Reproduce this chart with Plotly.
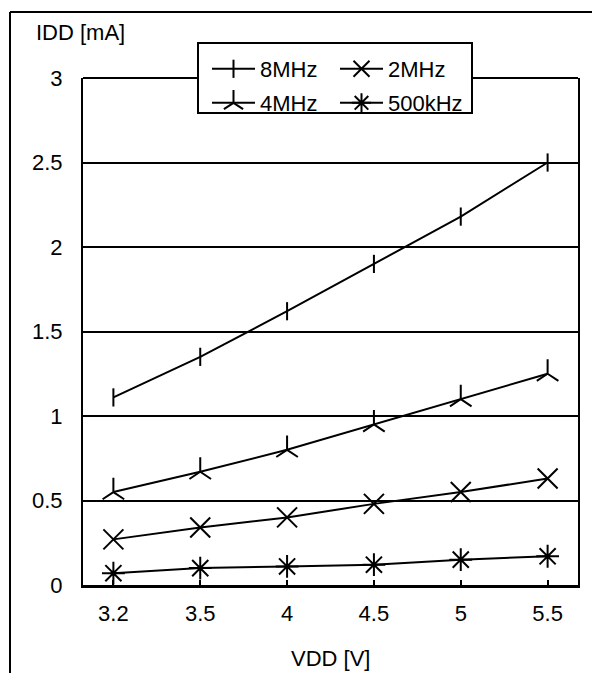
import plotly.graph_objects as go

vdd = ["3.2", "3.5", "4", "4.5", "5", "5.5"]
idd_8mhz = [1.11, 1.35, 1.62, 1.90, 2.18, 2.50]
idd_4mhz = [0.55, 0.67, 0.80, 0.95, 1.10, 1.25]
idd_2mhz = [0.27, 0.34, 0.40, 0.48, 0.55, 0.63]
idd_500khz = [0.07, 0.10, 0.11, 0.12, 0.15, 0.17]
y_ticks = [0, 0.5, 1, 1.5, 2, 2.5, 3]
y_labels = ["0", "0.5", "1", "1.5", "2", "2.5", "3"]

FONT = "Liberation Sans, Arial, sans-serif"
FS = 22
W, H = 592, 673
L, R, T, B = 83, 14, 78, 88
PW, PH = W - L - R, H - T - B

def px(x):
    return (x - L) / PW

def py(y):
    return (H - B - y) / PH

series = [
    ("8MHz", idd_8mhz, "line-ns", 13, "legend"),
    ("2MHz", idd_2mhz, "x-thin", 20, "legend2"),
    ("4MHz", idd_4mhz, "y-up", 18, "legend3"),
    ("500kHz", idd_500khz, "asterisk", 19, "legend4"),
]

fig = go.Figure()
for name, vals, sym, size, leg in series:
    fig.add_trace(go.Scatter(
        x=vdd, y=vals, name=name, mode="lines+markers",
        line=dict(color="black", width=2),
        marker=dict(symbol=sym, size=size, color="black",
                    line=dict(color="black", width=2)),
        legend=leg, cliponaxis=False,
    ))

leg_common = dict(bgcolor="rgba(0,0,0,0)", borderwidth=0, xanchor="left",
                  yanchor="middle", font=dict(family=FONT, size=FS, color="black"),
                  itemsizing="trace", itemwidth=43)
col1, col2 = px(207), px(335)
row1, row2 = py(69), py(103)

fig.update_layout(
    width=W, height=H,
    margin=dict(l=L, r=R, t=T, b=B, pad=0),
    paper_bgcolor="white", plot_bgcolor="white",
    font=dict(family=FONT, size=FS, color="black"),
    showlegend=True,
    legend=dict(x=col1, y=row1, **leg_common),
    legend2=dict(x=col2, y=row1, **leg_common),
    legend3=dict(x=col1, y=row2, **leg_common),
    legend4=dict(x=col2, y=row2, **leg_common),
    xaxis=dict(
        type="category", categoryorder="array", categoryarray=vdd,
        range=[-0.35, len(vdd) - 0.65],
        showline=True, linecolor="black", linewidth=3,
        ticks="inside", ticklen=5, tickwidth=2, tickcolor="black",
        showgrid=False, zeroline=False,
        tickfont=dict(family=FONT, size=FS, color="black"),
        ticklabelstandoff=7,
    ),
    xaxis2=dict(
        overlaying="x", anchor="y", side="bottom",
        range=[-0.35, len(vdd) - 0.65],
        tickmode="array", tickvals=list(range(len(vdd))),
        ticks="outside", ticklen=5, tickwidth=2, tickcolor="black",
        showticklabels=False, showline=False, showgrid=False, zeroline=False,
    ),
    yaxis=dict(
        range=[0, 3], tickmode="array", tickvals=y_ticks, ticktext=y_labels,
        showline=True, mirror=True, linecolor="black", linewidth=2,
        showgrid=True, gridcolor="black", gridwidth=2,
        ticks="", zeroline=False,
        tickfont=dict(family=FONT, size=FS, color="black"),
        ticklabelstandoff=14,
    ),
    shapes=[
        dict(type="line", xref="paper", yref="paper", x0=0, x1=1, y0=1, y1=1,
             line=dict(color="black", width=2), layer="above"),
        dict(type="line", xref="paper", yref="paper", x0=px(10), x1=px(600),
             y0=py(12), y1=py(12), line=dict(color="black", width=2)),
        dict(type="line", xref="paper", yref="paper", x0=px(10), x1=px(10),
             y0=py(12), y1=py(700), line=dict(color="black", width=2)),
        dict(type="rect", xref="paper", yref="paper", x0=px(198), x1=px(472),
             y0=py(113), y1=py(43), fillcolor="white",
             line=dict(color="black", width=2), layer="above"),
    ],
    annotations=[
        dict(text="IDD [mA]", xref="paper", yref="paper", x=px(34), y=py(33),
             xanchor="left", yanchor="middle", showarrow=False,
             font=dict(family=FONT, size=FS, color="black")),
        dict(text="VDD [V]", xref="paper", yref="paper", x=0.5, y=py(658),
             xanchor="center", yanchor="middle", showarrow=False,
             font=dict(family=FONT, size=FS, color="black")),
    ],
)

fig.write_html("out.html", config={"displayModeBar": False},
               post_script="document.body.style.margin='0';document.body.style.overflow='hidden';")
